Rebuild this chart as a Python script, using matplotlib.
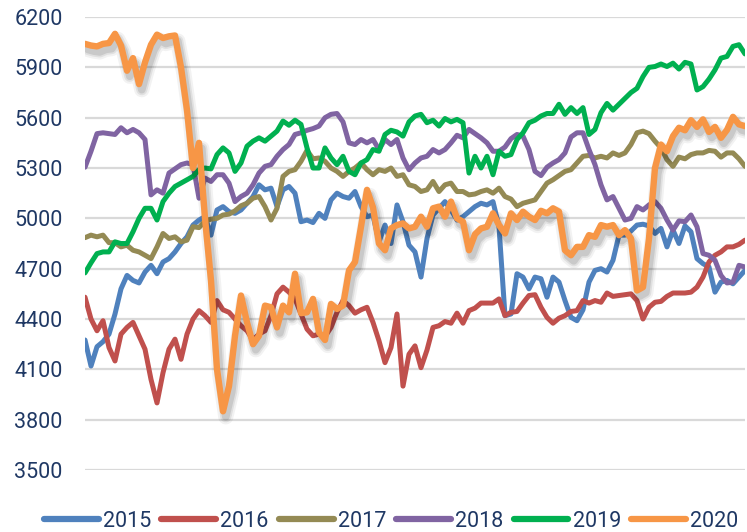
import numpy as np
import matplotlib
matplotlib.use("Agg")
import matplotlib.pyplot as plt
import matplotlib.patheffects as pe

# values, ~111 samples per year
y2015 = [4275, 4120, 4235, 4265, 4310, 4430, 4580, 4660, 4630, 4615, 4680, 4720, 4670, 4740, 4760,
         4800, 4850, 4890, 4960, 4990, 5010, 4900, 5050, 5070, 5040, 5030, 5050, 5090, 5130, 5200,
         5170, 5180, 5070, 5170, 5190, 5150, 4980, 4990, 4975, 5030, 5000, 5110, 5150, 5130, 5120,
         5160, 5070, 5010, 5020, 4860, 4960, 4850, 5080, 4980, 4840, 4800, 4650, 4880, 5020, 5060,
         5100, 5050, 4990, 5010, 5040, 5070, 5090, 5080, 5100, 4950, 4420, 4430, 4670, 4650, 4580,
         4650, 4640, 4530, 4650, 4620, 4510, 4410, 4390, 4455, 4620, 4690, 4700, 4680, 4750, 4900,
         4900, 4925, 4960, 4965, 4955, 4910, 4940, 4830, 4930, 4850, 4955, 4920, 4760, 4730, 4710,
         4560, 4620, 4630, 4610, 4650, 4690]
y2016 = [4530, 4400, 4330, 4390, 4230, 4150, 4310, 4350, 4380, 4300, 4220, 4040, 3900, 4080, 4220,
         4280, 4160, 4310, 4400, 4450, 4420, 4380, 4510, 4455, 4440, 4400, 4360, 4330, 4275, 4310,
         4330, 4420, 4550, 4590, 4560, 4520, 4430, 4340, 4300, 4310, 4295, 4350, 4440, 4510, 4480,
         4435, 4455, 4470, 4380, 4270, 4140, 4230, 4430, 4000, 4190, 4240, 4110, 4215, 4350, 4360,
         4385, 4375, 4435, 4375, 4450, 4465, 4495, 4495, 4495, 4520, 4420, 4440, 4445, 4495, 4540,
         4545, 4470, 4410, 4375, 4405, 4420, 4445, 4450, 4510, 4495, 4510, 4500, 4555, 4535, 4540,
         4545, 4550, 4510, 4400, 4470, 4500, 4505, 4535, 4555, 4555, 4555, 4560, 4590, 4650, 4740,
         4780, 4800, 4830, 4830, 4845, 4870]
y2017 = [4885, 4900, 4890, 4900, 4855, 4855, 4830, 4840, 4810, 4800, 4780, 4760, 4830, 4910, 4880,
         4890, 4860, 4870, 4950, 4945, 4985, 4995, 5000, 5020, 5025, 5045, 5075, 5090, 5120, 5130,
         5070, 4990, 5060, 5250, 5280, 5290, 5340, 5405, 5355, 5360, 5340, 5300, 5280, 5250, 5280,
         5300, 5330, 5290, 5260, 5290, 5280, 5300, 5250, 5260, 5200, 5190, 5160, 5170, 5220, 5160,
         5200, 5210, 5160, 5160, 5140, 5145, 5160, 5170, 5150, 5180, 5130, 5115, 5070, 5090, 5100,
         5110, 5160, 5210, 5230, 5255, 5280, 5290, 5330, 5370, 5375, 5360, 5370, 5360, 5390, 5375,
         5390, 5440, 5510, 5520, 5505, 5460, 5420, 5350, 5310, 5365, 5355, 5380, 5390, 5390, 5405,
         5400, 5365, 5390, 5390, 5355, 5310]
y2018 = [5305, 5400, 5505, 5510, 5505, 5500, 5540, 5510, 5530, 5510, 5470, 5140, 5170, 5150, 5270,
         5295, 5320, 5330, 5320, 5120, 5240, 5220, 5260, 5260, 5210, 5100, 5130, 5150, 5200, 5270,
         5310, 5320, 5370, 5410, 5440, 5500, 5510, 5525, 5535, 5550, 5600, 5620, 5625, 5575, 5450,
         5440, 5470, 5450, 5470, 5410, 5470, 5440, 5470, 5360, 5290, 5330, 5360, 5370, 5410, 5390,
         5410, 5450, 5495, 5480, 5530, 5505, 5480, 5450, 5400, 5400, 5425, 5475, 5500, 5490, 5410,
         5280, 5255, 5305, 5330, 5350, 5390, 5485, 5510, 5510, 5410, 5320, 5200, 5110, 5130, 5060,
         4990, 5000, 5070, 5050, 5080, 5100, 5060, 4990, 4930, 4985, 4980, 5020, 4950, 4790, 4780,
         4750, 4660, 4615, 4620, 4720, 4710]
y2019 = [4675, 4735, 4790, 4800, 4800, 4860, 4850, 4850, 4920, 5000, 5060, 5060, 4990, 5100, 5150,
         5190, 5210, 5230, 5250, 5290, 5300, 5295, 5380, 5420, 5390, 5280, 5330, 5430, 5460, 5480,
         5460, 5490, 5520, 5580, 5555, 5585, 5560, 5420, 5300, 5300, 5420, 5360, 5320, 5370, 5280,
         5260, 5330, 5350, 5410, 5400, 5500, 5525, 5515, 5490, 5575, 5610, 5620, 5570, 5585, 5550,
         5595, 5575, 5590, 5570, 5270, 5370, 5300, 5370, 5260, 5400, 5370, 5380, 5470, 5510, 5570,
         5585, 5610, 5625, 5625, 5680, 5620, 5660, 5625, 5660, 5500, 5530, 5630, 5685, 5645, 5680,
         5715, 5750, 5775, 5845, 5900, 5905, 5920, 5905, 5925, 5890, 5930, 5920, 5765, 5785, 5830,
         5885, 5955, 5965, 6025, 6035, 5980]
y2020 = [6040, 6030, 6025, 6040, 6045, 6100, 6030, 5880, 5955, 5800, 5930, 6035, 6095, 6075, 6085,
         6090, 5900, 5645, 5300, 5450, 5000, 4630, 4100, 3850, 4000, 4300, 4540, 4380, 4250, 4300,
         4480, 4470, 4350, 4480, 4440, 4670, 4435, 4440, 4520, 4320, 4275, 4490, 4460, 4480, 4690,
         4740, 4950, 5170, 5065, 4850, 4810, 4940, 4960, 4970, 4940, 4950, 5010, 4950, 5060, 5070,
         5010, 5100, 5000, 4980, 4810, 4905, 4940, 4950, 5030, 4960, 4910, 5030, 4990, 5040, 5010,
         4990, 5045, 5030, 5060, 5040, 4810, 4780, 4830, 4830, 4900, 4890, 4960, 4950, 4960, 4900,
         4930, 4880, 4570, 4590, 4880, 5300, 5440, 5400, 5490, 5540, 5525, 5585, 5545, 5590, 5515,
         5545, 5480, 5527, 5605, 5560, 5550]

years = ["2015", "2016", "2017", "2018", "2019", "2020"]
series = [y2015, y2016, y2017, y2018, y2019, y2020]
colors = ["#4F81BD", "#C0504D", "#948A54", "#8064A2", "#00B050", "#F79646"]
yticks = [3500, 3800, 4100, 4400, 4700, 5000, 5300, 5600, 5900, 6200]

navy = "#1F3864"
plt.rcParams["font.family"] = ["Roboto", "DejaVu Sans"]

fig = plt.figure(figsize=(7.47, 5.32), dpi=100)
ax = fig.add_axes([0.1138, 0.1165, 0.8835, 0.8515])

# soft shadow under the 2020 line, faked with a few wide faint strokes
shadow = [pe.SimpleLineShadow(offset=(2, -4), shadow_color="k", alpha=a, linewidth=w)
          for a, w in [(0.05, 11), (0.07, 8), (0.10, 5.5)]]

for name, vals, c in zip(years, series, colors):
    x = np.arange(len(vals))
    if name == "2020":
        ax.plot(x, vals, color=c, lw=4.6, label=name, solid_capstyle="round",
                solid_joinstyle="round", path_effects=shadow + [pe.Normal()])
    else:
        ax.plot(x, vals, color=c, lw=3.6, label=name, solid_capstyle="round",
                solid_joinstyle="round")

ax.set_xlim(0, 110)
ax.set_ylim(3500, 6200)
ax.set_yticks(yticks)
ax.set_xticks([])
ax.grid(axis="y", color="#D9D9D9", lw=1.6)
ax.set_axisbelow(True)
for s in ax.spines.values():
    s.set_visible(False)
ax.tick_params(axis="y", length=0, pad=16, labelsize=15.5, labelcolor=navy)

leg = fig.legend(loc="center", bbox_to_anchor=(0.5235, 0.02), ncol=6, frameon=False,
                 fontsize=15.5, handlelength=2.55, handletextpad=0.19, columnspacing=0.47)
for t in leg.get_texts():
    t.set_color(navy)
for h in leg.get_lines():
    h.set_linewidth(4.5)
    h.set_path_effects([])

fig.savefig("out.png", dpi=100)
